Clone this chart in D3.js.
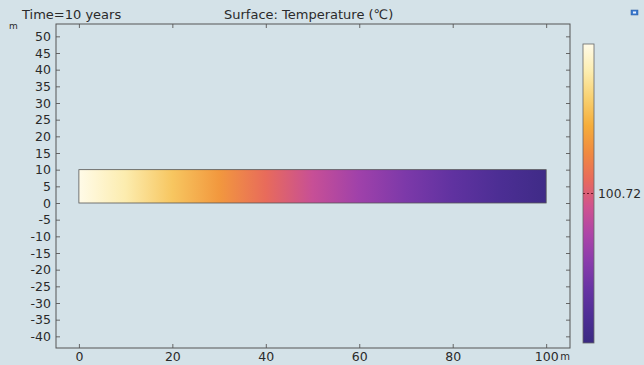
<!DOCTYPE html>
<html>
<head>
<meta charset="utf-8">
<script src="https://cdn.jsdelivr.net/npm/d3@7"></script>
<style>
  body { margin: 0; background: #d4e2e8; }
  svg { display: block; font-family: "DejaVu Sans", Verdana, sans-serif; }
</style>
</head>
<body>
<svg id="chart" width="644" height="365"></svg>
<script>
// data
var xTicks = [0, 20, 40, 60, 80, 100];
var yTicks = [50, 45, 40, 35, 30, 25, 20, 15, 10, 5, 0, -5, -10, -15, -20, -25, -30, -35, -40];
var domainX = [0, 100];
var domainY = [0, 10];
// temperature sampled along the domain (m, degC)
var profileX = [0, 10, 20, 30, 40, 50, 60, 70, 80, 90, 100];
var profileT = [100.738, 100.7346, 100.7305, 100.7262, 100.7217, 100.7176, 100.7138, 100.7105, 100.7076, 100.705, 100.7028];
var tRange = [100.702, 100.738];
var cbTicks = [100.72];
// colormap from min to max
var cmap = ["#3a2a82", "#4e2e96", "#6834a4", "#8a3cac", "#ad45a8", "#cf5290", "#e86a5c", "#f08a40", "#f5ad3a", "#f8d070", "#fcedb0", "#fffbe8"];

var svg = d3.select("#chart");
var frame = {left: 56, right: 570, top: 24, bottom: 348};

var x = d3.scaleLinear().domain([-4.9, 105.1]).range([frame.left, frame.right]);
var y = d3.scaleLinear().domain([-43.5, 53.7]).range([frame.bottom, frame.top]);

var color = d3.scaleLinear()
    .domain(cmap.map(function(c, i) { return tRange[0] + i * (tRange[1] - tRange[0]) / (cmap.length - 1); }))
    .range(cmap)
    .interpolate(d3.interpolateRgb);

var defs = svg.append("defs");

// gradient for the surface
var gSurf = defs.append("linearGradient").attr("id", "surf")
    .attr("x1", "0%").attr("x2", "100%").attr("y1", "0%").attr("y2", "0%");
profileX.forEach(function(px, i) {
  gSurf.append("stop")
    .attr("offset", ((px - domainX[0]) / (domainX[1] - domainX[0]) * 100) + "%")
    .attr("stop-color", color(profileT[i]));
});

// gradient for the colorbar
var gBar = defs.append("linearGradient").attr("id", "bar")
    .attr("x1", "0%").attr("x2", "0%").attr("y1", "100%").attr("y2", "0%");
cmap.forEach(function(c, i) {
  gBar.append("stop").attr("offset", (i / (cmap.length - 1) * 100) + "%").attr("stop-color", c);
});

// titles
svg.append("text").attr("x", 22).attr("y", 19).attr("font-size", 13).attr("fill", "#2a2a2a").text("Time=10 years");
svg.append("text").attr("x", 224).attr("y", 19).attr("font-size", 13).attr("fill", "#2a2a2a").text("Surface: Temperature (℃)");
svg.append("text").attr("x", 9).attr("y", 29).attr("font-size", 9).attr("fill", "#2a2a2a").text("m");

// surface
svg.append("rect")
    .attr("x", x(domainX[0])).attr("y", y(domainY[1]))
    .attr("width", x(domainX[1]) - x(domainX[0]))
    .attr("height", y(domainY[0]) - y(domainY[1]))
    .attr("fill", "url(#surf)")
    .attr("stroke", "#555").attr("stroke-width", 0.8);

// axes
var fmt = function(d) { return d3.format("d")(d).replace("−", "-"); };
var gx = svg.append("g").attr("transform", "translate(0," + frame.bottom + ")")
    .call(d3.axisBottom(x).tickValues(xTicks).tickSize(-4).tickPadding(4).tickFormat(fmt));
var gxt = svg.append("g").attr("transform", "translate(0," + frame.top + ")")
    .call(d3.axisTop(x).tickValues(xTicks).tickSize(-4).tickFormat(""));
var gy = svg.append("g").attr("transform", "translate(" + frame.left + ",0)")
    .call(d3.axisLeft(y).tickValues(yTicks).tickSize(-4).tickPadding(5).tickFormat(fmt));
var gyr = svg.append("g").attr("transform", "translate(" + frame.right + ",0)")
    .call(d3.axisRight(y).tickValues(yTicks).tickSize(-4).tickFormat(""));

[gx, gxt, gy, gyr].forEach(function(g) {
  g.select(".domain").remove();
  g.selectAll(".tick line").attr("stroke", "#666");
  g.selectAll(".tick text").attr("font-size", 12.5).attr("fill", "#2a2a2a")
    .attr("font-family", "DejaVu Sans, Verdana, sans-serif");
});

svg.append("rect")
    .attr("x", frame.left).attr("y", frame.top)
    .attr("width", frame.right - frame.left).attr("height", frame.bottom - frame.top)
    .attr("fill", "none").attr("stroke", "#555").attr("stroke-width", 1);

svg.append("text").attr("x", x(100) + 14).attr("y", frame.bottom + 12)
    .attr("font-size", 10).attr("fill", "#2a2a2a").text("m");

// colorbar
var cb = {x: 583, w: 11, top: 44, bottom: 343};
var cy = d3.scaleLinear().domain(tRange).range([cb.bottom, cb.top]);
svg.append("rect")
    .attr("x", cb.x).attr("y", cb.top).attr("width", cb.w).attr("height", cb.bottom - cb.top)
    .attr("fill", "url(#bar)").attr("stroke", "#666").attr("stroke-width", 0.8);
cbTicks.forEach(function(t) {
  svg.append("line")
    .attr("x1", cb.x).attr("x2", cb.x + cb.w).attr("y1", cy(t)).attr("y2", cy(t))
    .attr("stroke", "#6a1a2a").attr("stroke-width", 1).attr("stroke-dasharray", "2,2");
  svg.append("text").attr("x", cb.x + cb.w + 4).attr("y", cy(t) + 4.5)
    .attr("font-size", 12.3).attr("fill", "#2a2a2a").text(d3.format(".2f")(t));
});

// small icon top right
svg.append("rect").attr("x", 631).attr("y", 10).attr("width", 7).attr("height", 5)
    .attr("fill", "#3a7ad0").attr("stroke", "#2a5a9a").attr("stroke-width", 0.5);
svg.append("rect").attr("x", 633).attr("y", 11.5).attr("width", 3).attr("height", 2).attr("fill", "#e8f0ff");
</script>
</body>
</html>
